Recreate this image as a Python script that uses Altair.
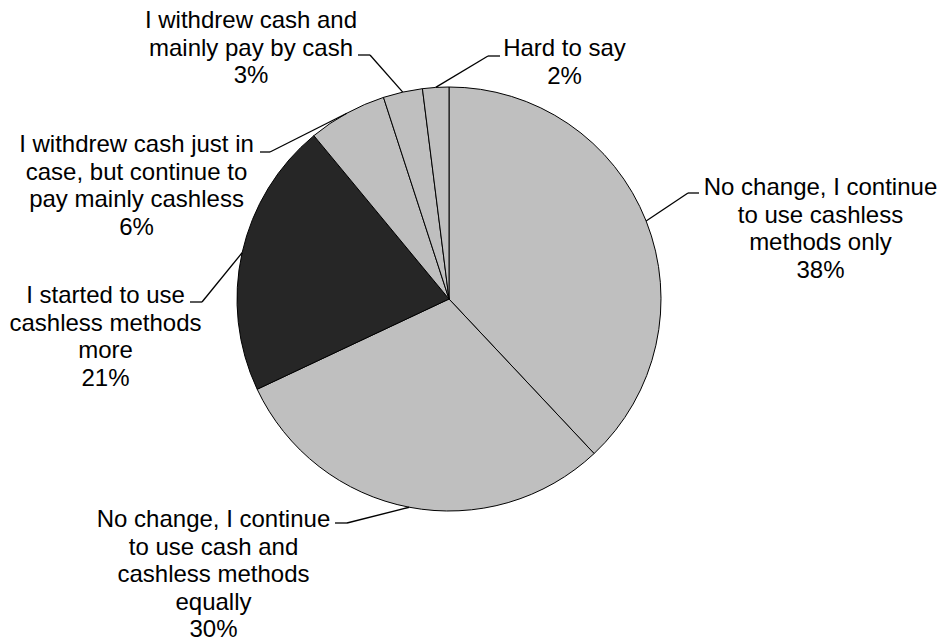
import math
import altair as alt
import pandas as pd

# ---- data ----
categories = [
    "No change, I continue to use cashless methods only",
    "No change, I continue to use cash and cashless methods equally",
    "I started to use cashless methods more",
    "I withdrew cash just in case, but continue to pay mainly cashless",
    "I withdrew cash and mainly pay by cash",
    "Hard to say",
]
label_lines = [
    "No change, I continue\nto use cashless\nmethods only",
    "No change, I continue\nto use cash and\ncashless methods\nequally",
    "I started to use\ncashless methods\nmore",
    "I withdrew cash just in\ncase, but continue to\npay mainly cashless",
    "I withdrew cash and\nmainly pay by cash",
    "Hard to say",
]
values = [38, 30, 21, 6, 3, 2]
fills = ["#BFBFBF", "#BFBFBF", "#262626", "#BFBFBF", "#BFBFBF", "#BFBFBF"]

# ---- layout (pixels) ----
CX, CY, R = 449, 299, 212
label_x = [820.5, 213.5, 105.5, 136.5, 251, 564.5]
label_y = [195, 527, 303, 152, 28, 56]          # first-line baseline
elbow_x = [688, 347, 202, 270, 370, 488]
elbow_y = [193, 523, 302, 152, 55, 56]
end_x = [699, 335, 190, 260, 358, 500]

total = sum(values)
rows = []
cum = 0
for i, (c, t, v) in enumerate(zip(categories, label_lines, values)):
    mid = (cum + v / 2) / total * 2 * math.pi
    cum += v
    rows.append({
        "idx": i, "cat": c, "value": v,
        "label": f"{t}\n{v}%",
        "lx": label_x[i], "ly": label_y[i],
        "px": CX + R * math.sin(mid), "py": CY - R * math.cos(mid),
        "ex": elbow_x[i], "ey": elbow_y[i], "hx": end_x[i],
    })
df = pd.DataFrame(rows)

base = alt.Chart(df)

pie = base.mark_arc(radius=R, stroke="black", strokeWidth=1).encode(
    theta=alt.Theta("value:Q", stack=True),
    order=alt.Order("idx:Q"),
    color=alt.Color("cat:N", scale=alt.Scale(domain=categories, range=fills), legend=None),
    x=alt.value(CX),
    y=alt.value(CY),
)

diag = base.mark_rule(color="black", strokeWidth=1.3).encode(
    x=alt.X("px:Q", scale=None, axis=None),
    y=alt.Y("py:Q", scale=None, axis=None),
    x2="ex:Q",
    y2="ey:Q",
)
horiz = base.mark_rule(color="black", strokeWidth=1.3).encode(
    x=alt.X("ex:Q", scale=None, axis=None),
    y=alt.Y("ey:Q", scale=None, axis=None),
    x2="hx:Q",
)

labels = base.mark_text(
    align="center", baseline="alphabetic", fontSize=24, font="Liberation Sans",
    lineHeight=27.5, lineBreak="\n", color="black",
).encode(
    x=alt.X("lx:Q", scale=None, axis=None),
    y=alt.Y("ly:Q", scale=None, axis=None),
    text="label:N",
)

chart = alt.layer(pie, diag, horiz, labels).properties(
    width=938, height=640, padding=0,
    autosize=alt.AutoSizeParams(type="none"),
    background="white",
).configure_view(stroke=None)

chart.save("out.html", embed_options={"renderer": "svg", "actions": False})
